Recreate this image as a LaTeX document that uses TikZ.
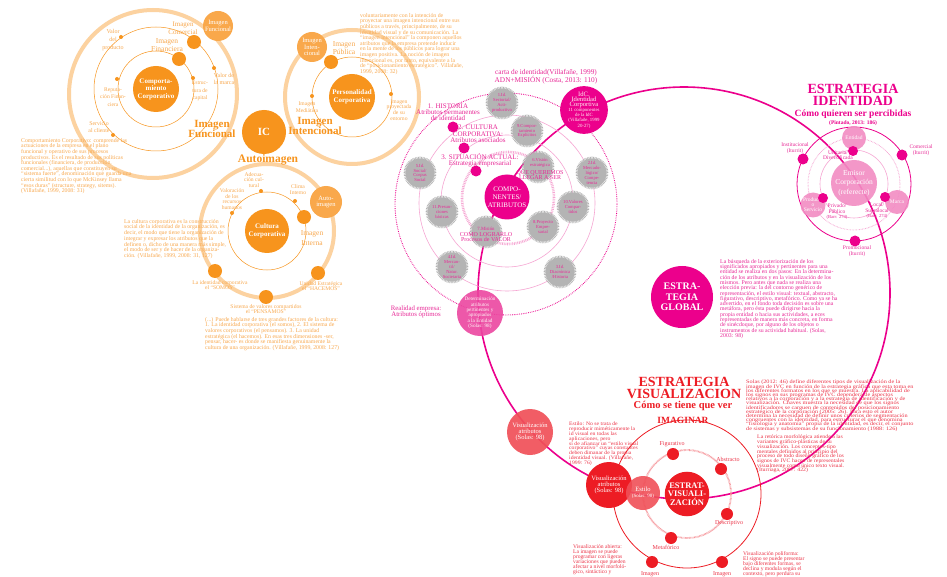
\documentclass[tikz,border=0pt]{standalone}
\usepackage{fontspec}
\setmainfont{Liberation Serif}
\newfontfamily\wideserif[FakeStretch=1.2]{Liberation Serif}
\newfontfamily\midserif[FakeStretch=1.1]{Liberation Serif}
\pgfdeclarelayer{bg}
\pgfsetlayers{bg,main}
\definecolor{oD}{RGB}{247,148,29}
\definecolor{oM}{RGB}{249,168,75}
\definecolor{oL}{RGB}{252,210,160}
\definecolor{oT}{RGB}{248,168,78}
\definecolor{mg}{RGB}{236,0,140}
\definecolor{mgL}{RGB}{246,165,210}
\definecolor{mgT}{RGB}{232,40,150}
\definecolor{pkC}{RGB}{242,140,195}
\definecolor{dtC}{RGB}{236,70,160}
\definecolor{gy}{RGB}{180,180,180}
\definecolor{rd}{RGB}{237,28,36}
\definecolor{rdL}{RGB}{240,80,88}
\definecolor{rdT}{RGB}{236,50,70}
\newcommand\myfs[2]{\fontsize{#1}{#2}\selectfont\lineskiplimit=-20pt\lineskip=0pt}
\begin{document}
\begin{tikzpicture}[x=1pt,y=-1pt,
 cnode/.style={circle,inner sep=0pt,align=center,text=white},
 par/.style={inner sep=0pt,align=left,anchor=north west},
 lab/.style={inner sep=0pt,align=center},
 gear/.style={circle,inner sep=0pt,minimum size=29pt,fill=gy,draw=gy,line width=3.6pt,dash pattern=on 0.7pt off 0.7pt,align=center,text=mgT,font=\myfs{4.6}{4.8}},
 mdot/.style={circle,inner sep=0pt,minimum size=14pt,fill=oD},
 sdot/.style={circle,inner sep=0pt,minimum size=4pt,fill=oD},
 pdot/.style={circle,inner sep=0pt,minimum size=11pt,fill=mg},
 rdot/.style={circle,inner sep=0pt,minimum size=12pt,fill=rd},
 oring/.style={draw=oL,line width=4pt},
 othin/.style={draw=oD,line width=0.5pt},
 odot/.style={draw=oD,line width=0.6pt,dash pattern=on 0.6pt off 0.9pt},
 othick/.style={draw=oL,line width=5pt},
 olab/.style={lab,text=oT,font=\myfs{5.6}{6}},
 mlab/.style={lab,text=mgT,font=\myfs{5.5}{5.5}},
 rlab/.style={lab,text=rdT,font=\myfs{6}{6}},
]
\path[use as bounding box,fill=white] (0,0) rectangle (947,577);
\clip (0,0) rectangle (947,577);

% ================= ORANGE =================
\draw[oring] (153,94) circle (84pt);
\draw[oring] (352,97) circle (67pt);
\draw[oring] (267,231) circle (67pt);
\draw[othin] (156,89) circle (38pt) (156,89) circle (62pt);
\draw[othin] (352,97) circle (40pt);
\draw[othin] (267,231) circle (39pt);

\node[cnode,fill=oD,minimum size=44pt,font=\bfseries\myfs{11}{12}] (ic) at (264,132) {IC};
\node[cnode,fill=oD,minimum size=46pt,font=\bfseries\myfs{7}{7.5}] (cc) at (156,89) {Comporta-\\miento\\Corporativo};
\node[cnode,fill=oD,minimum size=46pt,font=\bfseries\myfs{7}{7.5}] (pc) at (352,97) {Personalidad\\Corporativa};
\node[cnode,fill=oD,minimum size=44pt,font=\bfseries\myfs{7}{7.5}] (cu) at (267,231) {Cultura\\Corporativa};
\node[cnode,fill=oM,minimum size=30pt,font=\myfs{6.5}{6.5}] (ifn) at (218,26) {Imagen\\Funcional};
\node[cnode,fill=oM,minimum size=30pt,font=\myfs{6.5}{6.5}] (iin) at (312,47) {Imagen\\Inten-\\cional};
\node[cnode,fill=oM,minimum size=32pt,font=\myfs{6.5}{6.5}] (aut) at (326,202) {Auto-\\imagen};

\node[mdot] (dfin) at (179,59) {};
\node[mdot] (dcom) at (194,42) {};
\node[mdot] (dpub) at (331,62) {};
\node[mdot] (dint) at (304,217) {};
\node[mdot] (dsom) at (215,271) {};
\node[mdot] (dpen) at (266,297) {};
\node[mdot] (dhac) at (318,273) {};
\node[sdot] (s1) at (121,37) {};
\node[sdot] (s2) at (214,68) {};
\node[sdot] (s3) at (117,79) {};
\node[sdot] (s4) at (193,78) {};
\node[sdot] (s5) at (113,135) {};
\node[sdot] (s6) at (312,96) {};
\node[sdot] (s7) at (391,94) {};
\node[sdot] (s8) at (232,213) {};
\node[sdot] (s9) at (261,191) {};
\node[sdot] (s10) at (295,201) {};
\coordinate (cuL) at (229,236);

\begin{pgfonlayer}{bg}
\draw[othick] (ic) -- (cc);
\draw[othick] (ic) -- (pc);
\draw[othick] (ic) -- (cu);
\draw[othin] (cc) -- (dfin) -- (dcom) -- (ifn);
\draw[othin] (pc) -- (dpub) -- (iin);
\draw[odot] (cu) -- (dint) -- (aut);
\draw[odot] (ifn) .. controls (262,12) .. (iin);
\draw[odot] (pc) .. controls (357,160) .. (aut);
\draw[odot] (cc) .. controls (152,175) and (195,215) .. (cuL);
\end{pgfonlayer}

\node[olab,font=\myfs{6}{8}] (l1) at (113,40) {Valor\\del\\producto};
\node[olab,font=\myfs{7}{8.5}] (l2) at (183,28) {Imagen\\Comercial};
\node[olab,font=\myfs{7.5}{7.5}] (l3) at (167,45) {Imagen\\Financiera};
\node[olab,font=\myfs{6}{7}] (l4) at (224,79) {Valor de\\la marca};
\node[olab,font=\myfs{5.6}{7.5}] (l5) at (200,91) {Estruc-\\tura de\\capital};
\node[olab,font=\myfs{5.6}{7.5}] (l6) at (113,97) {Reputa-\\ción Finan-\\ciera};
\node[olab,font=\myfs{5.8}{7}] (l7) at (99,127) {Servicio\\al cliente};
\node[olab,font=\myfs{7.5}{8}] (l8) at (344,48) {Imagen\\Pública};
\node[olab,font=\myfs{5.6}{7}] (l9) at (307,107) {Imagen\\Mediática};
\node[olab,font=\myfs{5.6}{5.7}] (l10) at (399,110) {Imagen\\proyectada\\de su\\entorno};
\node[olab,font=\myfs{5.6}{5.5}] (l11) at (254,180) {Adecua-\\ción cul-\\tural};
\node[olab,font=\myfs{5.6}{5.7}] (l12) at (232,199) {Valoración\\de los\\recursos\\humanos};
\node[olab,font=\myfs{5.6}{6}] (l13) at (298,190) {Clima\\Interno};
\node[olab,font=\myfs{7.5}{10}] (l14) at (312,238) {Imagen\\Interna};
\node[olab,font=\myfs{5.6}{4.8}] (l15) at (220,285) {La identidad corporativa\\el “SOMOS”};
\node[olab,font=\myfs{5.6}{4.8}] (l16) at (266,309) {Sistema de valores compartidos\\el “PENSAMOS”};
\node[olab,font=\myfs{5.6}{4.8}] (l17) at (321,286) {Unidad Estratégica\\el “HACEMOS”};

\node[lab,text=oD,font=\bfseries\myfs{11}{10}] (lfun) at (212,129) {Imagen\\Funcional};
\node[lab,text=oD,font=\bfseries\myfs{11}{10}] (lint) at (315,126) {Imagen\\Intencional};
\node[lab,text=oD,font=\bfseries\myfs{11.5}{12}] (lauto) at (268,160) {Autoimagen};

\node[par,text=oT,font=\myfs{5.8}{5.6}] (p1) at (21,138) {Comportamiento Corporativo: comprende las\\actuaciones de la empresa en el plano\\funcional y operativo de sus procesos\\productivos. Es el resultado de sus políticas\\funcionales (financiera, de producción,\\comercial...), aquellas que constituyen su\\“sistema fuerte”, denominación que guarda una\\cierta similitud con lo que McKinsey llama\\“esos duras” (structure, strategy, sitems).\\(Villafañe, 1999, 2008: 31)};
\node[par,text=oT,font=\myfs{5.8}{5.6}] (p2) at (360,13) {voluntariamente con la intención de\\proyectar una imagen intencional entre sus\\públicos a través, principalmente, de su\\identidad visual y de su comunicación. La\\“imagen intencional” la componen aquellos\\atributos que la empresa pretende inducir\\en la mente de los públicos para lograr una\\imagen positiva. La noción de imagen\\intencional es, por tanto, equivalente a la\\de “posicionamiento estratégico”. Villafañe,\\1999, 2008: 32)};
\node[par,text=oT,font=\myfs{5.8}{5.7}] (p3) at (124,219) {La cultura corporativa es la construcción\\social de la identidad de la organización, es\\decir, el modo que tiene la organización de\\integrar y expresar los atributos que la\\definen o, dicho de una manera más simple,\\el modo de ser y de hacer de la organiza-\\ción. (Villafañe, 1999, 2008: 31, 127)};
\node[par,text=oT,font=\myfs{5.8}{5.6}] (p4) at (205,317) {(...) Puede hablarse de tres grandes factores de la cultura:\\1. La identidad corporativa (el somos), 2. El sistema de\\valores corporativos (el pensamos). 3. La unidad\\estratégica (el hacemos). En esas tres dimensiones -ser,\\pensar, hacer- es donde se manifiesta genuinamente la\\cultura de una organización. (Villafañe, 1999, 2008: 127)};

% ================= MAGENTA =================
\draw[mg,line width=1.6pt] (684,293) circle (206pt);
\draw[mg,line width=0.9pt,dash pattern=on 0.7pt off 1.1pt] (506,204) circle (111pt);
\draw[mgL,line width=0.6pt] (507,203) circle (88pt);
\draw[mgL,line width=0.6pt] (507,201) circle (66pt);
\draw[mgL,line width=2.6pt,dash pattern=on 0.8pt off 0.9pt] (508,198) circle (46pt);

\node[gear] (g1) at (502,103) {1.Id.\\Sectorial/\\Acti-\\productivo};
\node[gear] (g9) at (527,131) {9.Compor-\\tamiento\\Explícitos};
\node[gear] (g6) at (538,167) {};
\node[gear] (g5) at (420,173) {5.Id.\\Social/\\Corpus\\Social};
\node[gear] (g2) at (592,173) {2.Id.\\Mercado-\\lógico/\\Compe-\\tencia};
\node[gear] (g11) at (442,212) {11.Presun-\\ciones\\básicas};
\node[gear] (g10) at (573,207) {10.Valores\\Compar-\\tidos};
\node[gear] (g8) at (543,227) {8.Proyecto\\Empre-\\sarial};
\node[gear] (g7) at (486,232) {};
\node[gear] (g4) at (452,267) {4.Id.\\Mercan-\\til/\\Natur.\\Societaria};
\node[gear] (g3) at (560,272) {3.Id.\\Diacrónica\\/Historia};
\node[lab,text=mgT,font=\myfs{4.6}{5.5}] (q6a) at (540,163) {6.Visión\\estratégica};
\node[lab,text=mgT,font=\myfs{6}{5.3}] (q6b) at (540,175) {QUE QUEREMOS\\LLEGAR A SER};
\node[lab,text=mgT,font=\myfs{4.8}{5}] (q7a) at (486,229) {7.Misión};
\node[lab,text=mgT,font=\myfs{6}{5.6}] (q7b) at (486,237) {COMO LOGRARLO\\Procesos de VALOR};

\node[cnode,fill=mg,minimum size=45pt,font=\myfs{7}{8}] (comp) at (507,197) {COMPO-\\NENTES/\\ATRIBUTOS};
\node[cnode,fill=mg,minimum size=44pt,text=white!80!pink,font=\myfs{4.8}{5.1}] (idc) at (584,110) {{\myfs{6.6}{7}IdC.}\\{\myfs{6.6}{7}Identidad}\\{\myfs{6.6}{7}Corportiva}\\11 componentes\\de la IdC\\(Villafañe, 1999\\20-27)};
\node[cnode,fill=dtC,fill opacity=0.9,text opacity=1,minimum size=46pt,font=\myfs{5.2}{5.4},text=white!85!pink] (det) at (480,313) {Determinación\\atributos\\pertinentes y\\apropiados\\a la Entidad\\(Solas: 98)};

\node[pdot] (hd1) at (453,127) {};
\node[pdot] (hd2) at (464,148) {};
\node[pdot] (hd3) at (476,171) {};
\node[lab,text=mgT,font=\myfs{7}{6.2}] (h1) at (448,112) {1. HISTORIA\\Atributos permanentes\\de identidad};
\node[lab,text=mgT,font=\myfs{7}{6.6}] (h2) at (478,134) {2. CULTURA\\CORPORATIVA:\\Atributos asociados};
\node[lab,text=mgT,font=\myfs{7}{6.4}] (h3) at (480,160) {3. SITUACIÓN ACTUAL:\\Estrategia empresarial};
\node[lab,text=mgT,font=\myfs{7.3}{8}] (cart) at (546,77) {carta de identidad(Villafañe, 1999)\\ADN+MISIÓN (Costa, 2013: 110)};
\node[lab,text=mgT,font=\myfs{6.8}{6.3}] (real) at (416,312) {Realidad empresa:\\Atributos óptimos};

\node[cnode,fill=mg,minimum size=62pt,font=\bfseries\myfs{10}{10.5}] (glo) at (682,297) {ESTRA-\\TEGIA\\GLOBAL};
\node[par,text=mgT,font=\myfs{5.8}{5.3}] (p5) at (720,259) {La búsqueda de la exteriorización de los\\significados apropiados y pertinentes para una\\entidad se realiza en dos pasos: En la determina-\\ción de los atributos y en la visualización de los\\mismos. Pero antes que nada se realiza una\\elección previa: la del contorno genérico de\\representación, el estilo visual: textual, abstracto,\\figurativo, descriptivo, metafórico. Como ya se ha\\advertido, en el fondo toda decisión es sobre una\\metáfora, pero ésta puede dirigirse hacia la\\propia entidad o hacia sus actividades, a eces\\representadas de manera más concreta, en forma\\de sinécdoque, por alguno de los objetos o\\instrumentos de su actividad habitual. (Solas,\\2003: 98)};

% ================= ESTRATEGIA IDENTIDAD =================
\draw[mg,line width=0.8pt] (854,184) circle (57pt);
\draw[mgL,line width=0.9pt,dash pattern=on 0.6pt off 0.9pt] (854,184) circle (46pt);
\draw[mgL,line width=0.6pt] (854,184) circle (34pt);
\node[cnode,fill=pkC,fill opacity=0.9,text opacity=1,minimum size=46pt,font=\myfs{7.5}{9.5}] (emi) at (854,183) {Emisor\\Corporación\\(referecte)};
\node[cnode,fill=pkC,fill opacity=0.9,text opacity=1,minimum size=24pt,font=\myfs{5.5}{5}] (ent) at (854,138) {Entidad};
\node[cnode,fill=pkC,fill opacity=0.9,text opacity=1,minimum size=25pt,font=\myfs{5.5}{5}] (pro) at (813,205) {Producto\\o\\Servicio};
\node[cnode,fill=pkC,fill opacity=0.9,text opacity=1,minimum size=24pt,font=\myfs{5.5}{5}] (mar) at (897,202) {Marca};
\node[pdot] (m1) at (803,159) {};
\node[pdot] (m2) at (902,155) {};
\node[pdot] (m3) at (855,241) {};
\node[pdot,minimum size=10pt] (m4) at (853,151) {};
\node[pdot,minimum size=10pt] (m5) at (823,198) {};
\node[pdot,minimum size=10pt] (m6) at (885,197) {};
\node[mlab] (i1) at (795,148) {Institucional\\(Iturrit)};
\node[mlab] (i2) at (921,150) {Comercial\\(Iturrit)};
\node[mlab] (i3) at (857,251) {Promocional\\(Iturrit)};
\node[mlab] (i4) at (838,155) {Unitaria/\\Diversificada};
\node[mlab] (i5) at (837,212) {Privado/\\Público\\{\myfs{4.6}{5}(Barr: 274)}};
\node[mlab] (i6) at (877,211) {Local/\\Supralocal\\{\myfs{4.6}{5}(Barr: 274)}};
\node[lab,text=mg,font=\bfseries\myfs{14}{12}] (tid) at (853,95) {ESTRATEGIA\\IDENTIDAD};
\node[lab,text=mg,font=\bfseries\myfs{9.5}{10}] (tid2) at (853,114) {Cómo quieren ser percibidas};
\node[lab,text=mg,font=\bfseries\myfs{5.5}{6}] (tid3) at (853,123) {(Pintado, 2013: 186)};

% ================= ESTRATEGIA VISUALIZACION =================
\draw[rd,line width=0.8pt] (687,494) circle (74pt);
\draw[rdL!60,line width=1.8pt,dash pattern=on 0.6pt off 0.7pt] (687,494) circle (44pt);
\node[cnode,fill=rdL,fill opacity=0.92,text opacity=1,minimum size=46pt,font=\myfs{6.5}{6}] (va1) at (530,432) {Visualización\\atributos\\(Solas: 98)};
\node[cnode,fill=rd,minimum size=46pt,font=\myfs{6.5}{6}] (va2) at (609,485) {Visualización\\atributos\\(Solas: 98)};
\node[cnode,fill=rdL,fill opacity=0.9,text opacity=1,minimum size=34pt,font=\myfs{6.5}{6}] (est) at (643,493) {Estilo\\{\myfs{5}{5}(Solas: 98)}};
\node[cnode,fill=rd,minimum size=44pt,font=\bfseries\myfs{8.5}{8.5}] (ev) at (687,494) {ESTRAT-\\VISUALI-\\ZACIÓN};
\node[rdot] (rd1) at (673,454) {};
\node[rdot] (rd2) at (721,469) {};
\node[rdot] (rd3) at (727,514) {};
\node[rdot] (rd4) at (671,538) {};
\node[rdot] (rd5) at (652,562) {};
\node[rdot] (rd6) at (722,562) {};
\node[rlab] (r1) at (672,444) {Figurativo};
\node[rlab] (r2) at (728,459) {Abstracto};
\node[rlab] (r3) at (729,523) {Descriptivo};
\node[rlab] (r4) at (666,547) {Metafórico};
\node[rlab] (r5) at (650,574) {Imagen};
\node[rlab] (r6) at (722,574) {Imagen};
\node[lab,text=rd,font=\bfseries\myfs{14}{12}] (tv) at (684,388) {ESTRATEGIA\\VISUALIZACION};
\node[lab,text=rd,font=\bfseries\myfs{10.5}{10}] (tv2) at (683,406) {Cómo se tiene que ver};
\node[lab,text=rd,font=\bfseries\myfs{9.5}{10}] (tv3) at (683,420) {IMAGINAR};

\node[par,text=rdT,font=\wideserif\myfs{5.2}{4.2}] (p6) at (746,380) {Solas (2012: 46) define diferentes tipos de visualización de la\\imagen de IVC en función de la estrategia gráfica que esta toma en\\los diferentes formatos en los que se muestra. La aplicabilidad de\\los signos en sus programas de IVC dependerá de aspectos\\relativos a la corporación y a la estrategia de identificación y de\\visualización. Chaves muestra la necesidad de que los signos\\identificadores se carguen de contenidos del posicionamiento\\estratégico de la corporación (2005: 26). Para esto el autor\\determina la necesidad de definir unos criterios de segmentación\\congruentes con la identidad, para estructurar el que denomina\\“fisiología y anatomía” propia de la identidad, es decir, el conjunto\\de sistemas y subsistemas de su funcionamiento (1988: 126)};
\node[par,text=rdT,font=\midserif\myfs{5.3}{4.7}] (p7) at (757,435) {La retórica morfológica atiende a las\\variantes gráfico-plásticas de su\\visualización. Los conceptos-tipo\\mentales definidos al principio del\\proceso de todo diseño gráfico de los\\signos de IVC hacen de representales\\visualmente como único texto visual.\\(Iturriaga, 2007: 422)};
\node[par,text=rdT,font=\midserif\myfs{5.2}{4.8}] (p8) at (569,422) {Estilo: No se trata de\\reproducir miméticamente la\\id visual en todas las\\aplicaciones, pero\\sí de afianzar un “estilo visual\\corporativo” cuyas constantes\\deben dimanar de la propia\\identidad visual. (Villafañe,\\1999: 76)};
\node[par,text=rdT,font=\myfs{5.6}{5}] (p9) at (573,544) {Visualización abierta:\\La imagen se puede\\programar con ligeras\\variaciones que pueden\\afectar a nivel morfoló-\\gico, sintáctico y};
\node[par,text=rdT,font=\myfs{5.6}{5}] (p10) at (743,551) {Visualización poliforma:\\El signo se puede presentar\\bajo diferentes formas, se\\declina y modula según el\\contexto, pero perdura su};
\end{tikzpicture}
\end{document}
